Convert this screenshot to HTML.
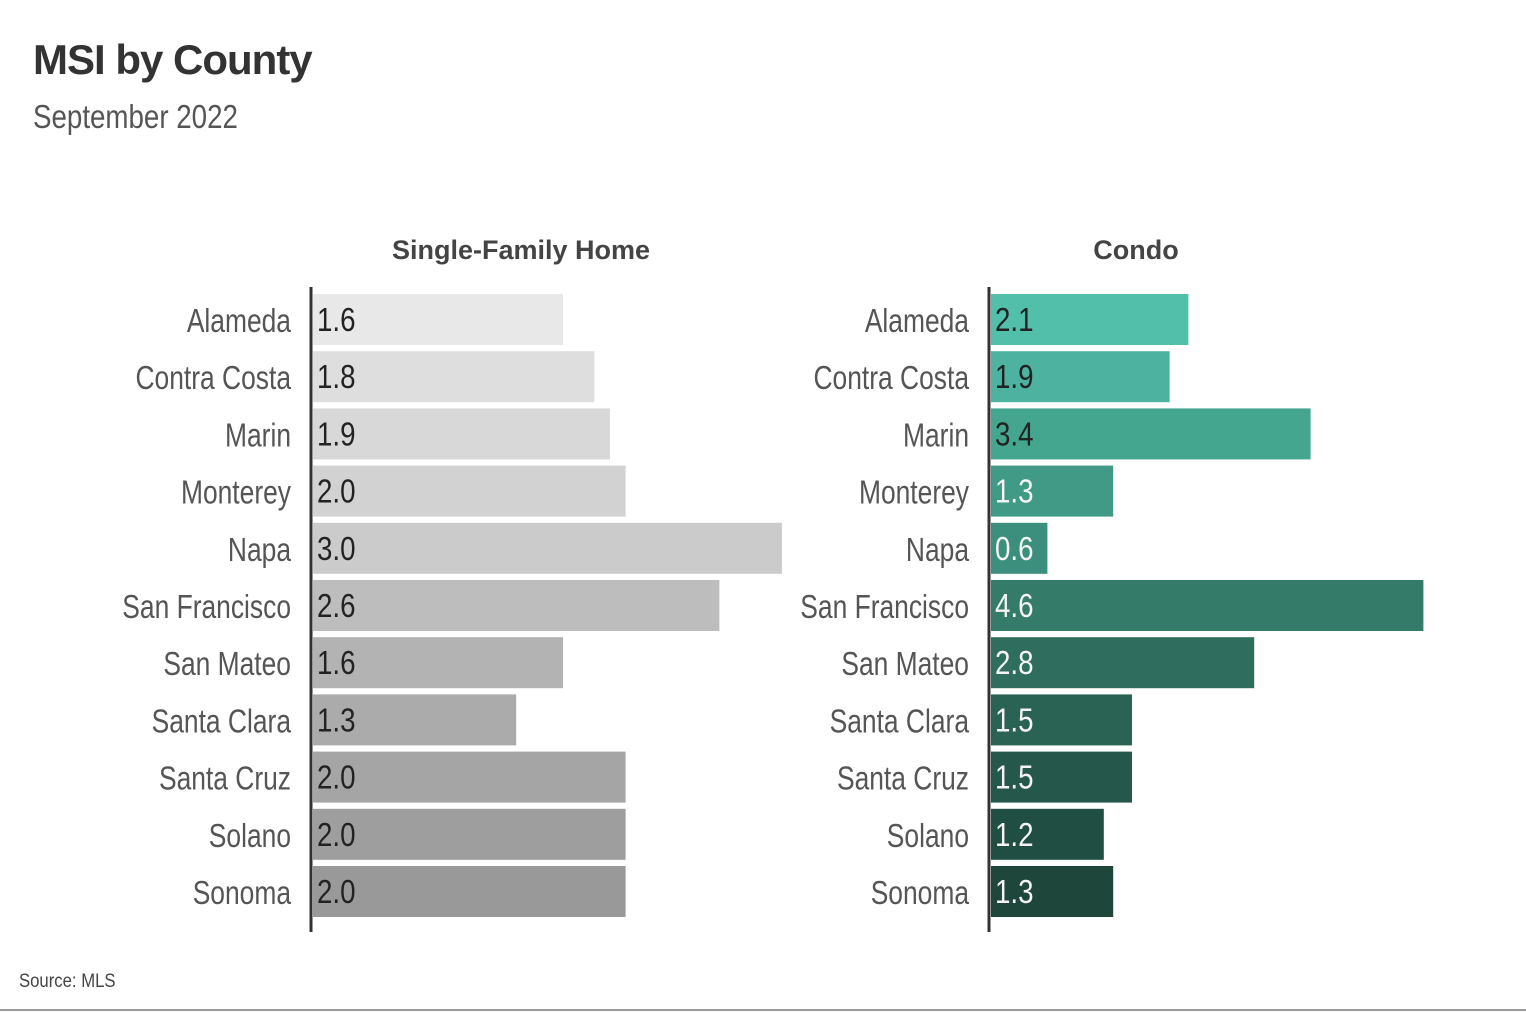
<!DOCTYPE html>
<html><head><meta charset="utf-8"><style>
html,body{margin:0;padding:0;background:#fff;width:1526px;height:1012px;overflow:hidden}
svg{display:block}
text{font-family:"Liberation Sans",sans-serif}
</style></head><body>
<svg id="chart" width="1526" height="1012">
<text x="33" y="74" font-size="42" font-weight="bold" fill="#333" letter-spacing="-1">MSI by County</text>
<text transform="translate(33,128) scale(0.84,1)" font-size="33" fill="#555">September 2022</text>
<text x="521" y="259" font-size="27" font-weight="bold" fill="#444" text-anchor="middle">Single-Family Home</text>
<text x="1136" y="259" font-size="27" font-weight="bold" fill="#444" text-anchor="middle">Condo</text>
<text transform="translate(19,987) scale(0.88,1)" font-size="19" fill="#444">Source:  MLS</text>
<line x1="0" y1="1010" x2="1526" y2="1010" stroke="#999" stroke-width="2"/>
</svg>
<script>
const counties = ["Alameda","Contra Costa","Marin","Monterey","Napa","San Francisco","San Mateo","Santa Clara","Santa Cruz","Solano","Sonoma"];
const sfhValues = [1.6,1.8,1.9,2.0,3.0,2.6,1.6,1.3,2.0,2.0,2.0];
const condoValues = [2.1,1.9,3.4,1.3,0.6,4.6,2.8,1.5,1.5,1.2,1.3];
const sfhColors = ["#e8e8e8","#dedede","#d8d8d8","#d2d2d2","#cbcbcb","#bdbdbd","#b3b3b3","#ababab","#a5a5a5","#9e9e9e","#999999"];
const condoColors = ["#52bfab","#4db29f","#45a690","#409a86","#3b8f7c","#357b6a","#2f6e5e","#2a6354","#25584b","#214e42","#1e463b"];
const NS="http://www.w3.org/2000/svg";
const svg=document.getElementById('chart');
function mk(tag,attrs){const e=document.createElementNS(NS,tag);for(const k in attrs)e.setAttribute(k,attrs[k]);svg.appendChild(e);return e;}
function y(i){return 294+i*57.2;}
function panel(values,colors,axisX,pxPerUnit,prefix,darkThreshold){
  values.forEach((v,i)=>{
    const r=mk('rect',{x:axisX+2,y:y(i),width:v*pxPerUnit,height:51,fill:colors[i]});
    
    
    const t=mk('text',{transform:'translate('+(axisX+6)+','+(y(i)+37)+') scale(0.84,1)','font-size':33,fill:i<darkThreshold?'#222':'#f4f4f4'});
    t.textContent=v.toFixed(1);
    
    
    const l=mk('text',{transform:'translate('+(axisX-20)+','+(y(i)+38)+') scale(0.8,1)','font-size':33,fill:'#555','text-anchor':'end'});
    l.textContent=counties[i];
    
    
  });
  const a=mk('line',{x1:axisX,y1:287,x2:axisX,y2:932,stroke:'#333','stroke-width':3});
  
  
}
panel(sfhValues,sfhColors,311,156.3,'sfh',11);
panel(condoValues,condoColors,989,94,'condo',3);
</script>
</body></html>
